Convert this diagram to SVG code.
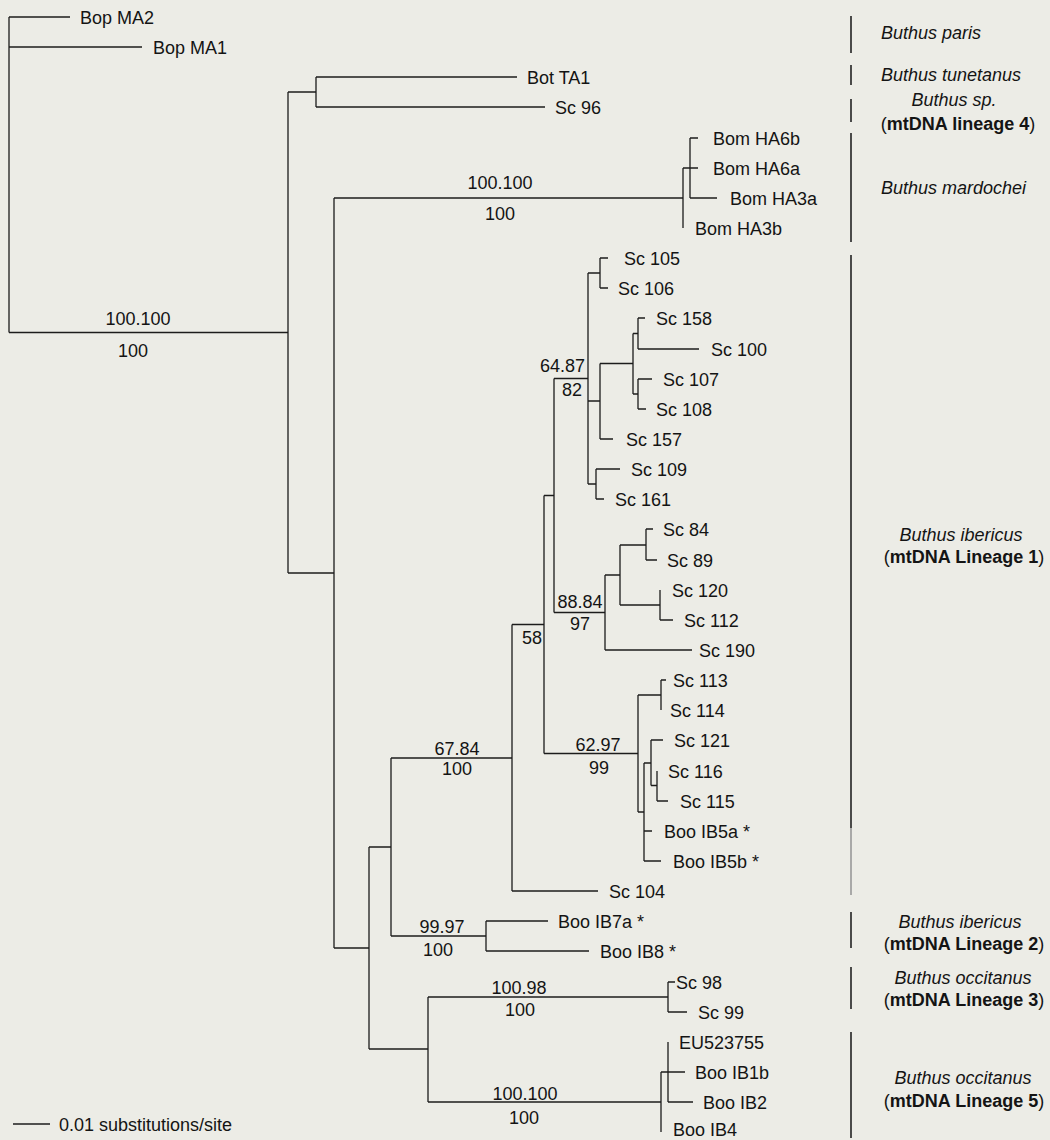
<svg xmlns="http://www.w3.org/2000/svg" width="1050" height="1140" viewBox="0 0 1050 1140">
<style>
.br{stroke:#1c1c1c;stroke-width:1.3;fill:none}
.bar{stroke:#222;stroke-width:1.6}
.t{font-family:"Liberation Sans",Arial,sans-serif;font-size:18px;fill:#141414}
.m{text-anchor:middle}
.e{text-anchor:end}
.i{font-style:italic}
.b{font-weight:bold}
</style>
<rect width="1050" height="1140" fill="#ececE6"/>
<g id="connectors" class="br">
<path d="M9,17V332.5M9,17H70M9,47H142M9,332.5H288"/>
<path d="M288,92V573M288,92H316M288,573H334"/>
<path d="M316,77V107M316,77H517M316,107H545"/>
<path d="M334,198V948M334,198H683M334,948H369"/>
<path d="M683,168V228M683,168H690"/>
<path d="M690,138V198M690,138H698M690,168H698M690,198H717"/>
<path d="M369,847V1049M369,847H391M369,1049H428"/>
<path d="M391,758V936M391,758H512M391,936H486"/>
<path d="M486,921V951M486,921H548M486,951H589"/>
<path d="M428,997V1102M428,997H668M428,1102H661"/>
<path d="M668,982V1012M668,982H675M668,1012H687"/>
<path d="M661,1072V1132M661,1072H668"/>
<path d="M668,1042V1102M668,1072H685M668,1102H693"/>
<path d="M512,624.5V891M512,624.5H544M512,891H598"/>
<path d="M544,495.5V753.5M544,495.5H554M544,753.5H638"/>
<path d="M554,378.5V612.5M554,378.5H588M554,612.5H605"/>
<path d="M588,273V484M588,273H600M588,401H600M588,484H596"/>
<path d="M600,258V288M600,258H608M600,288H608"/>
<path d="M600,363.5V439M600,363.5H633M600,439H613"/>
<path d="M633,333.5V394M633,333.5H638M633,394H638"/>
<path d="M638,318V349M638,318H645M638,349H699"/>
<path d="M638,379V409M638,379H652M638,409H646"/>
<path d="M596,469V499M596,469H620M596,499H604"/>
<path d="M605,575V650M605,575H620M605,650H692"/>
<path d="M620,545V605M620,545H646M620,605H660"/>
<path d="M646,529V560M646,529H653M646,560H657"/>
<path d="M660,590V620M660,620H673"/>
<path d="M638,695V812M638,695H661M638,812H644"/>
<path d="M661,680V710M661,680H666"/>
<path d="M644,763V861M644,763H651M644,831H652M644,861H661"/>
<path d="M651,740V785.5M651,740H663M651,785.5H657"/>
<path d="M657,771V801M657,801H668"/>
</g>
<g id="support" class="t m">
<text x="138" y="324.5">100.100</text><text x="133" y="356.5">100</text>
<text x="500" y="188.5">100.100</text><text x="500" y="219.5">100</text>
<text x="585" y="372" class="e">64.87</text><text x="572" y="395.5">82</text>
<text x="580" y="607.5">88.84</text><text x="580" y="629.5">97</text>
<text x="532" y="643.5">58</text>
<text x="598" y="751">62.97</text><text x="599" y="773.5">99</text>
<text x="457" y="754.5">67.84</text><text x="457" y="774.5">100</text>
<text x="442" y="932.5">99.97</text><text x="438" y="955.5">100</text>
<text x="519" y="993.5">100.98</text><text x="520" y="1015.5">100</text>
<text x="525" y="1099.5">100.100</text><text x="524" y="1123.5">100</text>
</g>
<g class="t">
<g id="n-BopMA2"><text x="80" y="23.5">Bop MA2</text></g>
<g id="n-BopMA1"><text x="153" y="53.5">Bop MA1</text></g>
<g id="n-BotTA1"><text x="527" y="83.5">Bot TA1</text></g>
<g id="n-Sc96"><text x="555" y="113.5">Sc 96</text></g>
<g id="n-BomHA6b"><text x="713" y="144.5">Bom HA6b</text></g>
<g id="n-BomHA6a"><text x="713" y="174.5">Bom HA6a</text></g>
<g id="n-BomHA3a"><text x="730" y="204.5">Bom HA3a</text></g>
<g id="n-BomHA3b"><text x="695" y="234.5">Bom HA3b</text></g>
<g id="n-Sc105"><text x="624" y="264.5">Sc 105</text></g>
<g id="n-Sc106"><text x="618" y="294.5">Sc 106</text></g>
<g id="n-Sc158"><text x="656" y="324.5">Sc 158</text></g>
<g id="n-Sc100"><text x="711" y="355.5">Sc 100</text></g>
<g id="n-Sc107"><text x="663" y="385.5">Sc 107</text></g>
<g id="n-Sc108"><text x="656" y="415.5">Sc 108</text></g>
<g id="n-Sc157"><text x="626" y="445.5">Sc 157</text></g>
<g id="n-Sc109"><text x="631" y="475.5">Sc 109</text></g>
<g id="n-Sc161"><text x="615" y="505.5">Sc 161</text></g>
<g id="n-Sc84"><text x="663" y="535.5">Sc 84</text></g>
<g id="n-Sc89"><text x="667" y="566.5">Sc 89</text></g>
<g id="n-Sc120"><text x="672" y="596.5">Sc 120</text></g>
<g id="n-Sc112"><text x="684" y="626.5">Sc 112</text></g>
<g id="n-Sc190"><text x="699" y="656.5">Sc 190</text></g>
<g id="n-Sc113"><text x="673" y="686.5">Sc 113</text></g>
<g id="n-Sc114"><text x="670" y="716.5">Sc 114</text></g>
<g id="n-Sc121"><text x="674" y="746.5">Sc 121</text></g>
<g id="n-Sc116"><text x="668" y="777.5">Sc 116</text></g>
<g id="n-Sc115"><text x="680" y="807.5">Sc 115</text></g>
<g id="n-BooIB5a"><text x="664" y="837.5">Boo IB5a *</text></g>
<g id="n-BooIB5b"><text x="673" y="867.5">Boo IB5b *</text></g>
<g id="n-Sc104"><text x="609" y="897.5">Sc 104</text></g>
<g id="n-BooIB7a"><text x="558" y="927.5">Boo IB7a *</text></g>
<g id="n-BooIB8"><text x="600" y="957.5">Boo IB8 *</text></g>
<g id="n-Sc98"><text x="676" y="988.5">Sc 98</text></g>
<g id="n-Sc99"><text x="698" y="1018.5">Sc 99</text></g>
<g id="n-EU523755"><text x="679" y="1048.5">EU523755</text></g>
<g id="n-BooIB1b"><text x="695" y="1078.5">Boo IB1b</text></g>
<g id="n-BooIB2"><text x="703" y="1108.5">Boo IB2</text></g>
<g id="n-BooIB4"><text x="673" y="1135.5">Boo IB4</text></g>
</g>
<g id="groups" class="t">
<g id="g-paris"><line class="bar" x1="851" y1="16" x2="851" y2="53"/><text x="881" y="38.5" class="i">Buthus paris</text></g>
<g id="g-tunetanus"><line class="bar" x1="851" y1="65" x2="851" y2="85"/><text x="881" y="80.5" class="i">Buthus tunetanus</text></g>
<g id="g-lin4"><line class="bar" x1="851" y1="99" x2="851" y2="122"/><text x="954" y="105.5" class="i m">Buthus sp.</text><text x="958" y="129.5" class="m">(<tspan class="b">mtDNA lineage 4</tspan>)</text></g>
<g id="g-mardochei"><line class="bar" x1="851" y1="133" x2="851" y2="242"/><text x="881" y="193.5" class="i">Buthus mardochei</text></g>
<g id="g-lin1"><line class="bar" x1="851" y1="255" x2="851" y2="828"/><line x1="851" y1="828" x2="851" y2="895" stroke="#999" stroke-width="1.6"/><text x="961" y="540.5" class="i m">Buthus ibericus</text><text x="964" y="562.5" class="m">(<tspan class="b">mtDNA Lineage 1</tspan>)</text></g>
<g id="g-lin2"><line class="bar" x1="851" y1="912" x2="851" y2="948"/><text x="960" y="927.5" class="i m">Buthus ibericus</text><text x="964" y="949.5" class="m">(<tspan class="b">mtDNA Lineage 2</tspan>)</text></g>
<g id="g-lin3"><line class="bar" x1="851" y1="967" x2="851" y2="1009"/><text x="963" y="983.5" class="i m">Buthus occitanus</text><text x="964" y="1005.5" class="m">(<tspan class="b">mtDNA Lineage 3</tspan>)</text></g>
<g id="g-lin5"><line class="bar" x1="851" y1="1032" x2="851" y2="1138"/><text x="963" y="1083.5" class="i m">Buthus occitanus</text><text x="964" y="1106.5" class="m">(<tspan class="b">mtDNA Lineage 5</tspan>)</text></g>
</g>
<g id="scale"><line class="br" x1="13" y1="1124" x2="50" y2="1124"/><text class="t" x="59" y="1130.5">0.01 substitutions/site</text></g>
</svg>
